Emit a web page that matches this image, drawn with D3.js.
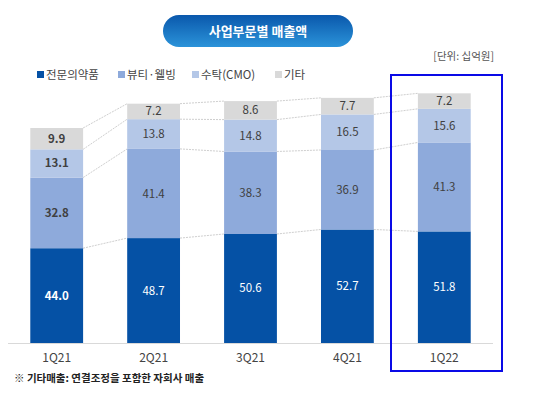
<!DOCTYPE html>
<html><head><meta charset="utf-8">
<script src="https://cdn.jsdelivr.net/npm/d3@7"></script>
<style>body{margin:0;background:#fff}svg{display:block;font-family:"Noto Sans CJK KR","Noto Sans",sans-serif}</style>
</head><body><svg id="c" width="550" height="403"></svg>
<script>
const categories = ["1Q21","2Q21","3Q21","4Q21","1Q22"];
const seriesNames = ["전문의약품","뷰티·웰빙","수탁(CMO)","기타"];
const rx = [44.0,48.7,50.6,52.7,51.8];
const beauty = [32.8,41.4,38.3,36.9,41.3];
const cmo = [13.1,13.8,14.8,16.5,15.6];
const other = [9.9,7.2,8.6,7.7,7.2];
const colors = ["#0551a5","#8eaadb","#b4c7e7","#d9d9d9"];
const labelColors = ["#ffffff","#404040","#404040","#404040"];

const svg = d3.select("#c");
const defs = svg.append("defs");
const g = defs.append("linearGradient").attr("id","pill").attr("x1",0).attr("y1",0).attr("x2",0).attr("y2",1);
g.append("stop").attr("offset","0%").attr("stop-color","#0a58ac");
g.append("stop").attr("offset","100%").attr("stop-color","#2b93d9");

svg.append("rect").attr("x",163).attr("y",15).attr("width",190).attr("height",32).attr("rx",16).attr("fill","url(#pill)");
svg.append("text").attr("x",258).attr("y",36).attr("text-anchor","middle").attr("fill","#fff")
  .attr("font-size",13).attr("font-weight","bold").text("사업부문별 매출액");

svg.append("text").attr("x",494).attr("y",60).attr("text-anchor","end").attr("fill","#555").attr("font-size",10.5).text("[단위: 십억원]");

const legX = [37,118,192,275];
seriesNames.forEach((n,i)=>{
  svg.append("rect").attr("x",legX[i]).attr("y",71).attr("width",7).attr("height",7).attr("fill",colors[i]);
  svg.append("text").attr("x",legX[i]+9).attr("y",78.5).attr("font-size",11.5).attr("fill","#444").text(n);
});

const x = d3.scaleBand().domain(categories).range([8,493]).paddingInner(0.455).paddingOuter(0.23);
const y = d3.scaleLinear().domain([0,120]).range([343,84.5]);

const data = categories.map((c,i)=>({cat:c, rx:rx[i], beauty:beauty[i], cmo:cmo[i], other:other[i]}));
const keys = ["rx","beauty","cmo","other"];
const stacked = d3.stack().keys(keys)(data);

const conn = svg.append("g");
stacked.forEach(s=>{
  for(let i=0;i<categories.length-1;i++){
    conn.append("line")
      .attr("x1",x(categories[i])+x.bandwidth()).attr("y1",y(s[i][1]))
      .attr("x2",x(categories[i+1])).attr("y2",y(s[i+1][1]))
      .attr("stroke","#cfcfcf").attr("stroke-width",1).attr("stroke-dasharray","2,1");
  }
});

stacked.forEach((s,k)=>{
  svg.append("g").selectAll("rect").data(s).join("rect")
    .attr("x",d=>x(d.data.cat)).attr("width",x.bandwidth())
    .attr("y",d=>y(d[1])).attr("height",d=>y(d[0])-y(d[1]))
    .attr("fill",colors[k]);
  svg.append("g").selectAll("text").data(s).join("text")
    .attr("x",d=>x(d.data.cat)+x.bandwidth()/2)
    .attr("y",d=>(y(d[0])+y(d[1]))/2+4)
    .attr("text-anchor","middle").attr("font-size",11.5)
    .attr("font-weight",(d,i)=>i===0?"bold":"normal")
    .attr("fill",labelColors[k])
    .text(d=>(d[1]-d[0]).toFixed(1));
});

svg.append("line").attr("x1",8).attr("x2",493).attr("y1",343.5).attr("y2",343.5).attr("stroke","#d9d9d9").attr("stroke-width",1);

const xAxis = svg.append("g").attr("transform","translate(0,343)")
  .call(d3.axisBottom(x).tickSize(0).tickPadding(10));
xAxis.select(".domain").remove();
xAxis.selectAll("text").attr("font-size",12).attr("fill","#444").attr("font-family","'Noto Sans CJK KR','Noto Sans',sans-serif");

svg.append("rect").attr("x",391).attr("y",75).attr("width",111).attr("height",296)
  .attr("fill","none").attr("stroke","#0a0ae6").attr("stroke-width",2);

svg.append("text").attr("x",14).attr("y",382).attr("font-size",10.5).attr("font-weight","bold").attr("fill","#222")
  .text("※ 기타매출: 연결조정을 포함한 자회사 매출");
</script></body></html>
